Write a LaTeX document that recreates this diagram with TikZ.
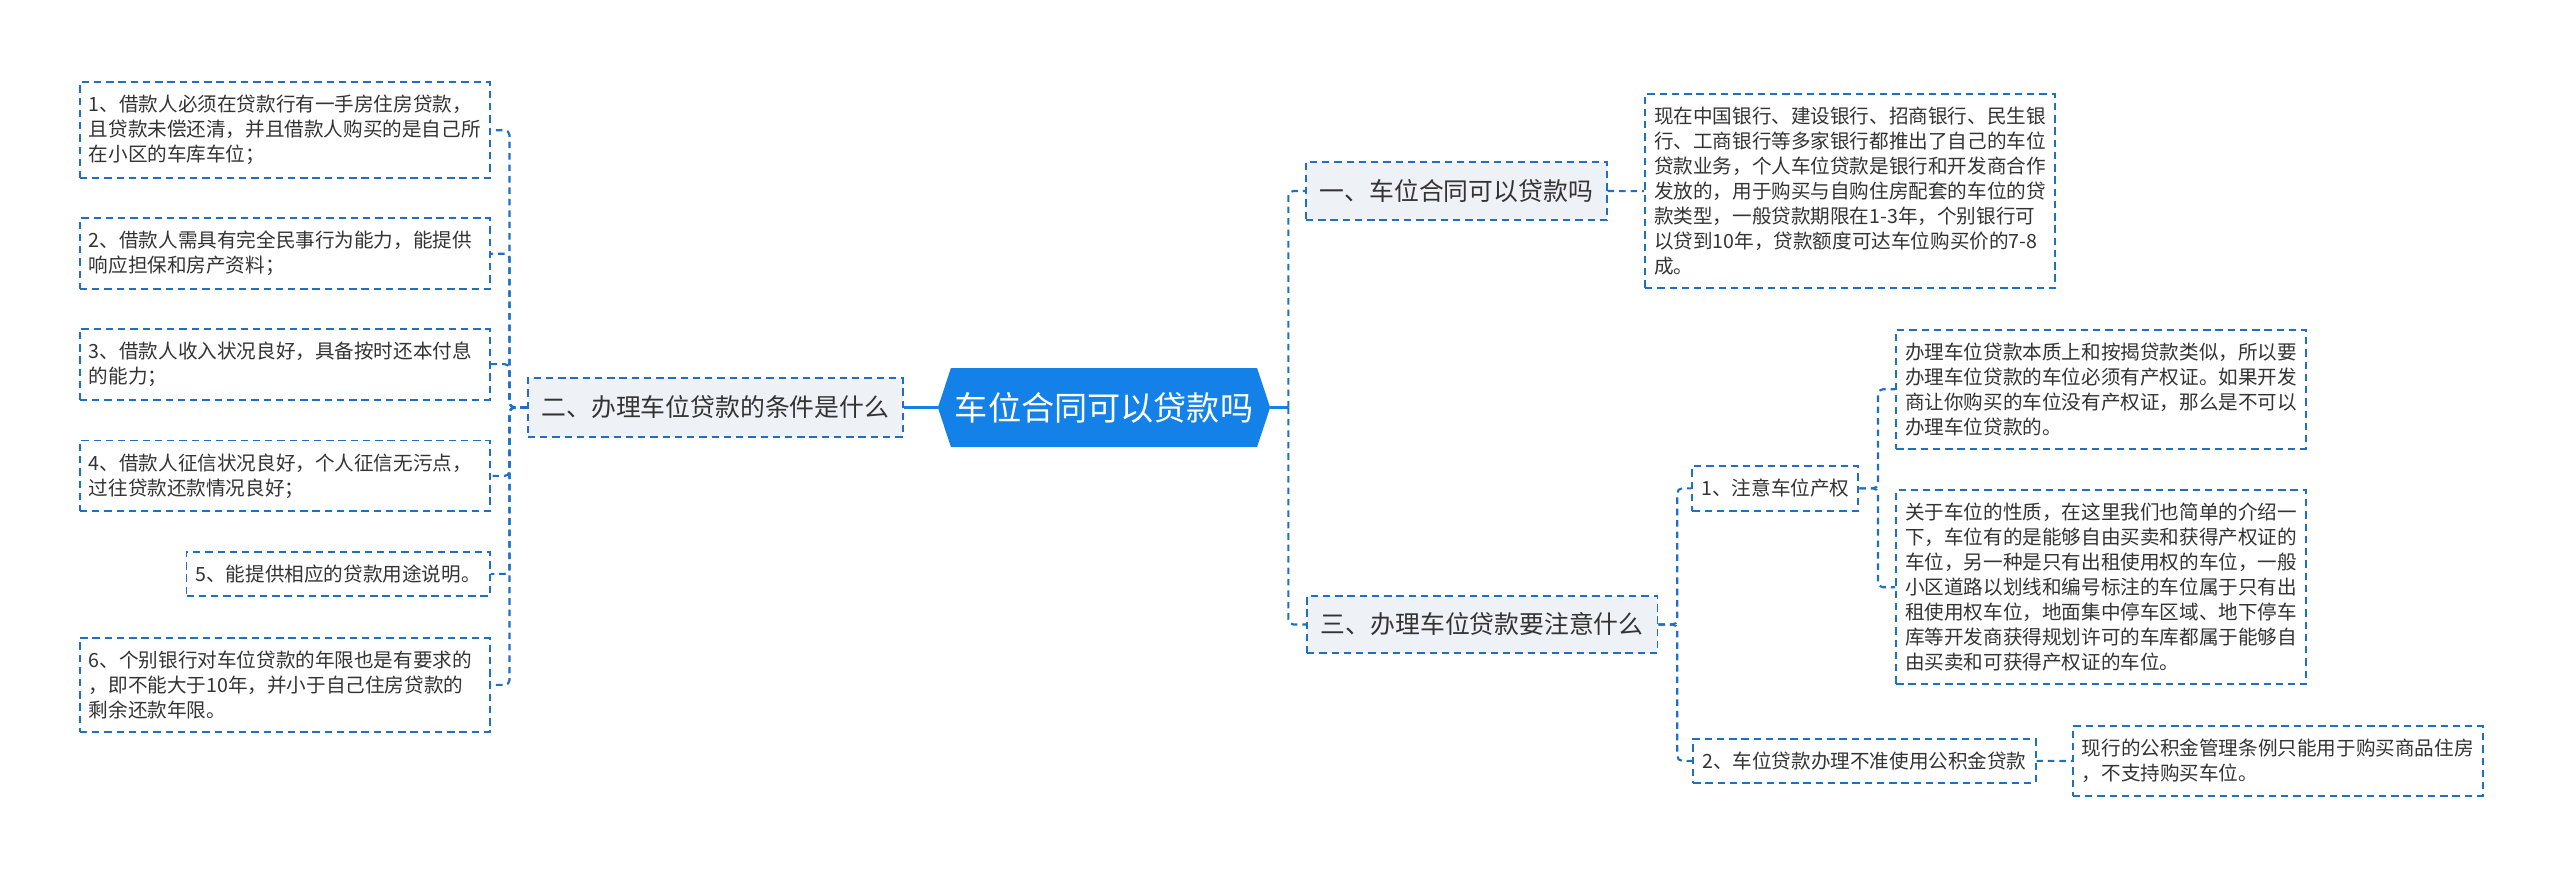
\documentclass[tikz,border=0pt]{standalone}
\usepackage{fontspec}
\setmainfont{Noto Sans CJK SC}

\definecolor{mapblue}{HTML}{1F6FC5}
\definecolor{rootblue}{HTML}{1481E8}
\definecolor{branchgray}{HTML}{EEF1F5}
\definecolor{inkgray}{HTML}{333333}

\tikzset{
  box/.style={draw=mapblue, line width=1.2pt, dash pattern=on 4.5pt off 3pt,
    text=inkgray, align=left, inner xsep=5.5pt, inner ysep=8pt,
    font=\fontsize{12}{15.3}\selectfont},
  leaf/.style={box, text width=240pt},
  branch/.style={box, fill=branchgray, font=\fontsize{15.2}{18}\selectfont,
    minimum height=36pt, inner xsep=8.5pt, inner ysep=0pt},
  link/.style={draw=mapblue, line width=1.3pt, dash pattern=on 4pt off 3pt, rounded corners=3pt},
  rootlink/.style={draw=rootblue, line width=2pt},
}

\begin{document}
\begin{tikzpicture}[x=1pt, y=-1pt]
  \useasboundingbox (0,0) rectangle (1568,538);

  % centre
  \node[draw=none, fill=white, text=white, font=\fontsize{20.3}{24}\selectfont,
    minimum width=203.5pt, minimum height=48.4pt, inner sep=0pt,
    path picture={\fill[rootblue] (path picture bounding box.west)
      -- ([xshift=8pt]path picture bounding box.north west)
      -- ([xshift=-8pt]path picture bounding box.north east)
      -- (path picture bounding box.east)
      -- ([xshift=-8pt]path picture bounding box.south east)
      -- ([xshift=8pt]path picture bounding box.south west) -- cycle;}]
    (root) at (676.2,249.6) {车位合同可以贷款吗};

  % branches
  \node[branch, anchor=east] (b2) at (553.7,249.6) {二、办理车位贷款的条件是什么};
  \node[branch, anchor=west] (b1) at (799.3,117) {一、车位合同可以贷款吗};
  \node[branch, anchor=west, minimum height=35pt] (b3) at (800,382.5) {三、办理车位贷款要注意什么};

  % left leaves
  \node[leaf, anchor=east] (l1) at (300.5,79.8) {1、借款人必须在贷款行有一手房住房贷款，\\且贷款未偿还清，并且借款人购买的是自己所\\在小区的车库车位；};
  \node[leaf, anchor=east] (l2) at (300.5,155.4) {2、借款人需具有完全民事行为能力，能提供\\响应担保和房产资料；};
  \node[leaf, anchor=east] (l3) at (300.5,223) {3、借款人收入状况良好，具备按时还本付息\\的能力；};
  \node[leaf, anchor=east] (l4) at (300.5,291.5) {4、借款人征信状况良好，个人征信无污点，\\过往贷款还款情况良好；};
  \node[box, anchor=east] (l5) at (300.5,351.5) {5、能提供相应的贷款用途说明。};
  \node[leaf, anchor=east] (l6) at (300.5,419.5) {6、个别银行对车位贷款的年限也是有要求的\\，即不能大于10年，并小于自己住房贷款的\\剩余还款年限。};

  % right leaves
  \node[leaf, anchor=west] (r1) at (1007,117.1) {现在中国银行、建设银行、招商银行、民生银\\行、工商银行等多家银行都推出了自己的车位\\贷款业务，个人车位贷款是银行和开发商合作\\发放的，用于购买与自购住房配套的车位的贷\\款类型，一般贷款期限在1-3年，个别银行可\\以贷到10年，贷款额度可达车位购买价的7-8\\成。};
  \node[box, anchor=west] (s1) at (1036,299.1) {1、注意车位产权};
  \node[box, anchor=west] (s2) at (1036.5,466) {2、车位贷款办理不准使用公积金贷款};
  \node[leaf, anchor=west] (la) at (1160.8,238.4) {办理车位贷款本质上和按揭贷款类似，所以要\\办理车位贷款的车位必须有产权证。如果开发\\商让你购买的车位没有产权证，那么是不可以\\办理车位贷款的。};
  \node[leaf, anchor=west] (lb) at (1160.8,359.7) {关于车位的性质，在这里我们也简单的介绍一\\下，车位有的是能够自由买卖和获得产权证的\\车位，另一种是只有出租使用权的车位，一般\\小区道路以划线和编号标注的车位属于只有出\\租使用权车位，地面集中停车区域、地下停车\\库等开发商获得规划许可的车库都属于能够自\\由买卖和可获得产权证的车位。};
  \node[leaf, anchor=west] (lc) at (1269,466.1) {现行的公积金管理条例只能用于购买商品住房\\，不支持购买车位。};

  % connectors
  \draw[rootlink] (root.west) -- (b2.east);
  \draw[rootlink] (root.east) -- ++(11,0) coordinate (rtrunk);
  \draw[link] (rtrunk) |- (b1.west);
  \draw[link] (rtrunk) |- (b3.west);
  \foreach \i in {1,...,6}
    \draw[link] (b2.west) -- ++(-10.6,0) |- (l\i.east);
  \draw[link] (b1.east) -- (r1.west);
  \foreach \n in {s1,s2}
    \draw[link] (b3.east) -- ++(11.5,0) |- (\n.west);
  \foreach \n in {la,lb}
    \draw[link] (s1.east) -- ++(11.4,0) |- (\n.west);
  \draw[link] (s2.east) -- (lc.west);
\end{tikzpicture}
\end{document}
